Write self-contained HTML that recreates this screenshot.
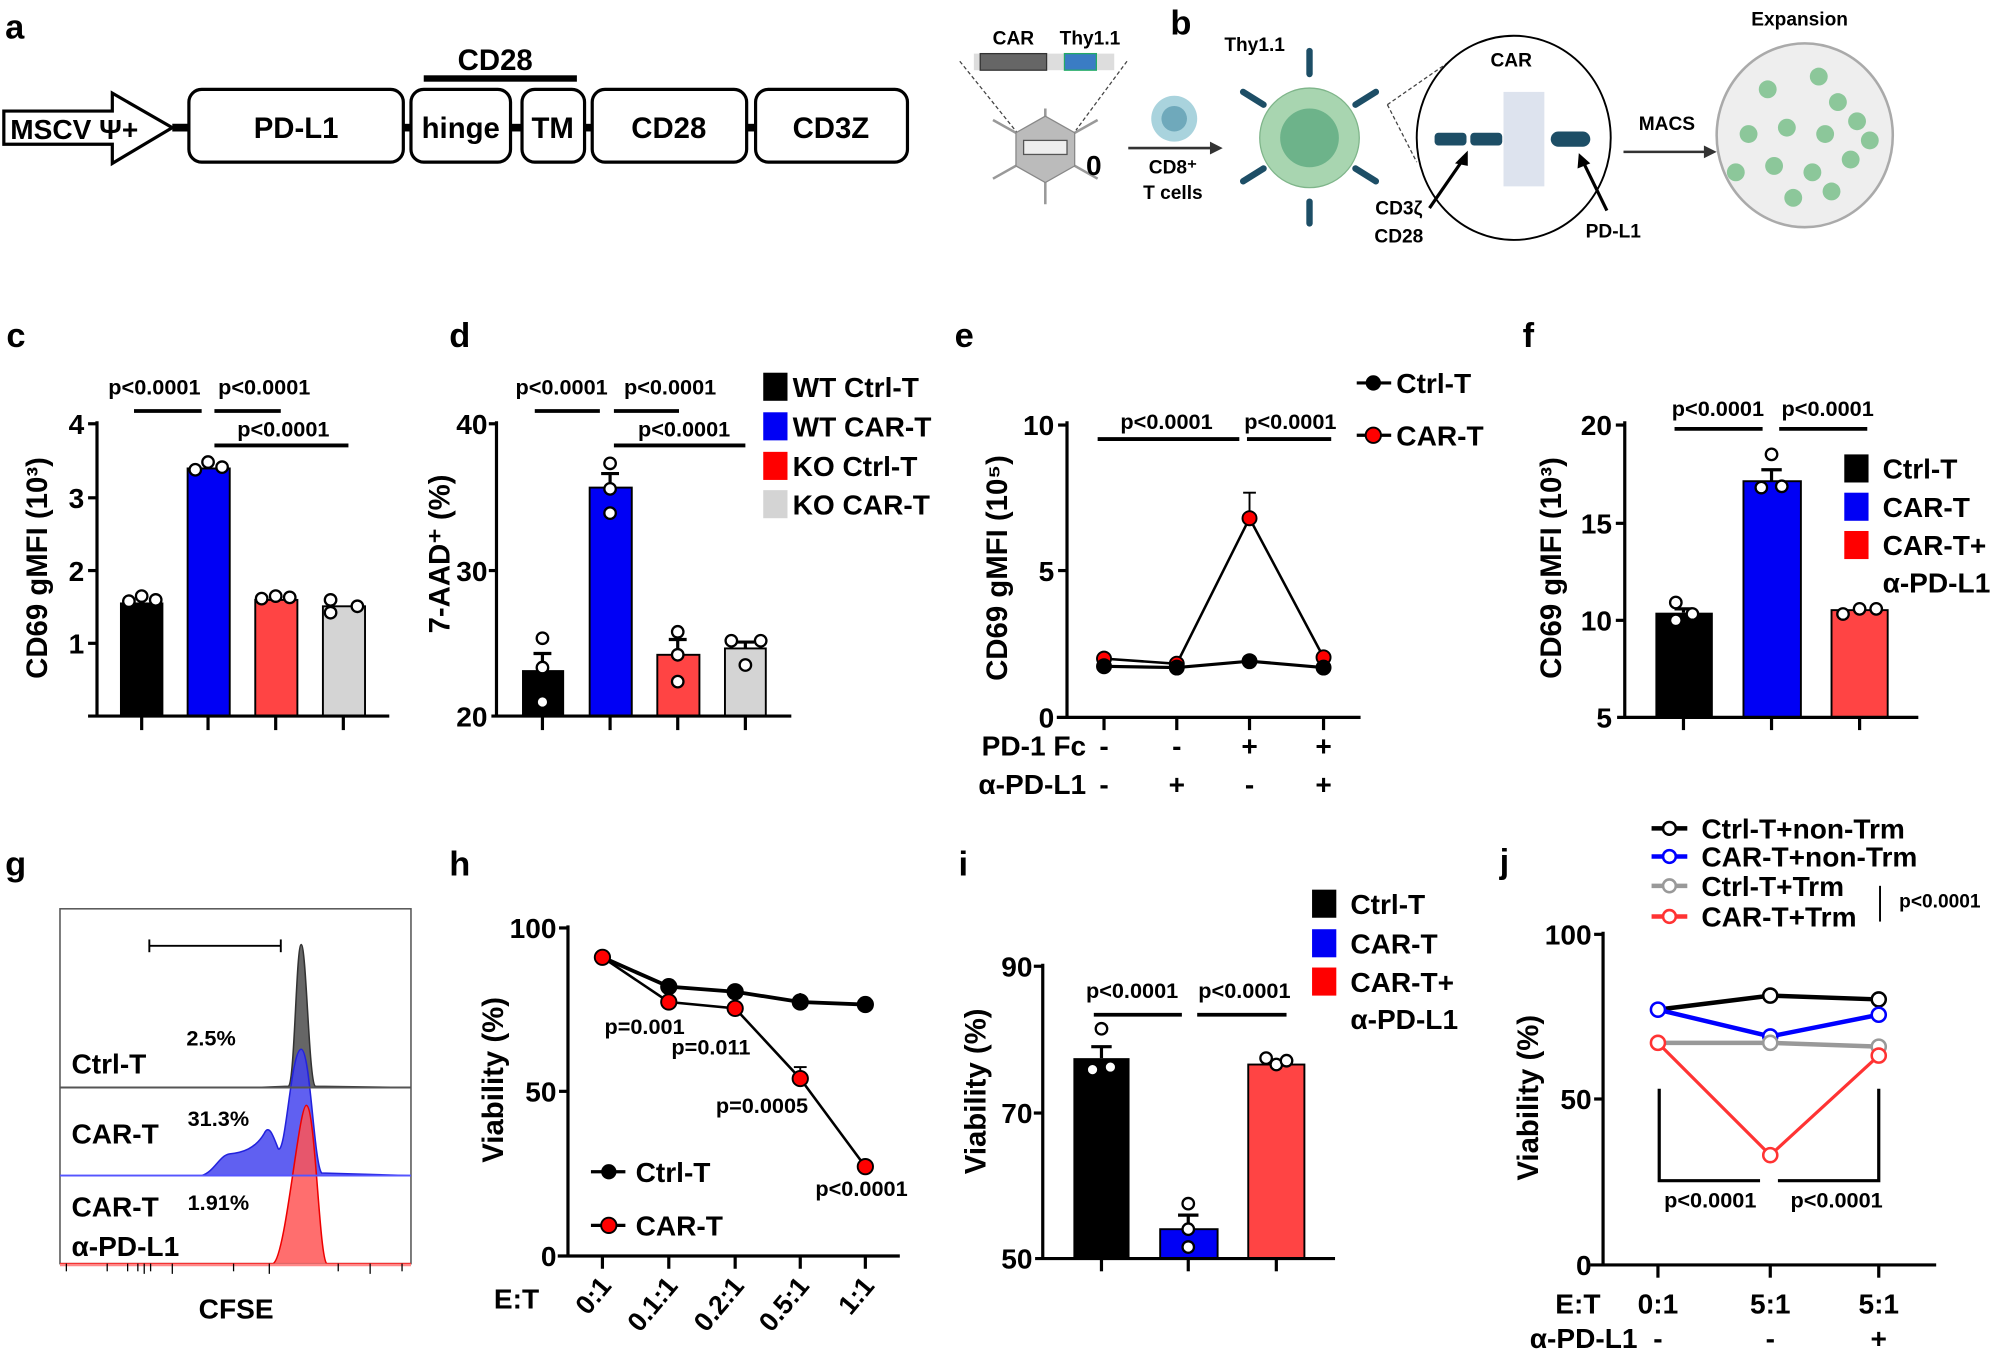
<!DOCTYPE html>
<html><head><meta charset="utf-8"><style>
html,body{margin:0;padding:0;background:#fff;}
svg{display:block;}
text{font-family:"Liberation Sans",sans-serif;font-weight:bold;fill:#000;}
.p{font-size:17px;}
.tk{font-size:22px;text-anchor:end;}
.yl{font-size:23px;text-anchor:middle;}
.lg{font-size:22px;}
.L{font-size:27px;}
</style></head><body>
<svg width="2000" height="1353" viewBox="0 0 1567 1060" preserveAspectRatio="none" xmlns="http://www.w3.org/2000/svg">
<rect width="1567" height="1060" fill="#fff"/>
<!-- panel a -->
<text class="L" x="4" y="30">a</text>
<path d="M3,87 L88,87 L88,73 L135,100 L88,128 L88,113 L3,113 Z" fill="#fff" stroke="#000" stroke-width="2.5"/>
<text x="8" y="109" style="font-size:22px">MSCV Ψ+</text>
<g stroke="#000" stroke-width="6"><line x1="135" y1="100" x2="150" y2="100"/><line x1="315" y1="100" x2="324" y2="100"/><line x1="398" y1="100" x2="410" y2="100"/><line x1="456" y1="100" x2="466" y2="100"/><line x1="583" y1="100" x2="594" y2="100"/></g>
<g fill="#fff" stroke="#000" stroke-width="2.5">
<rect x="148" y="70" width="168" height="57" rx="10"/>
<rect x="322" y="70" width="78" height="57" rx="10"/>
<rect x="409" y="70" width="49" height="57" rx="10"/>
<rect x="464" y="70" width="121" height="57" rx="10"/>
<rect x="592" y="70" width="119" height="57" rx="10"/>
</g>
<g style="font-size:23px" text-anchor="middle">
<text x="232" y="108">PD-L1</text><text x="361" y="108">hinge</text><text x="433" y="108">TM</text><text x="524" y="108">CD28</text><text x="651" y="108">CD3Z</text>
<text x="388" y="55">CD28</text></g>
<rect x="332" y="59" width="120" height="5" fill="#000"/>
<!-- panel b -->
<text class="L" x="917" y="27">b</text>
<g text-anchor="middle" style="font-size:15px"><text x="794" y="35">CAR</text><text x="854" y="35">Thy1.1</text><text x="983" y="40">Thy1.1</text><text x="1184" y="52">CAR</text><text x="1410" y="20">Expansion</text><text x="1306" y="102">MACS</text><text x="919" y="136">CD8⁺</text><text x="919" y="156">T cells</text><text x="1096" y="168">CD3ζ</text><text x="1096" y="190">CD28</text><text x="1264" y="186">PD-L1</text></g>
<rect x="763" y="42" width="110" height="13" fill="#ddd"/><rect x="768" y="42" width="52" height="13" fill="#666" stroke="#333"/><rect x="834" y="42" width="25" height="13" fill="#3a7cc4" stroke="#2a6"/>
<g stroke="#444" stroke-dasharray="3,2" fill="none"><line x1="752" y1="48" x2="797" y2="104"/><line x1="883" y1="48" x2="843" y2="102"/><line x1="1087" y1="82" x2="1136" y2="48"/><line x1="1087" y1="82" x2="1110" y2="127"/></g>
<g stroke="#999" stroke-width="2"><line x1="819" y1="85" x2="819" y2="160"/><line x1="778" y1="94" x2="860" y2="140"/><line x1="778" y1="140" x2="860" y2="94"/></g>
<polygon points="819,91 842,104 842,130 819,143 796,130 796,104" fill="#bbb" stroke="#888"/>
<rect x="802" y="110" width="34" height="11" fill="#eee" stroke="#555"/>
<text x="857" y="137" style="font-size:22px" text-anchor="middle">0</text>
<circle cx="920" cy="93" r="18" fill="#a9d3dd"/><circle cx="920" cy="93" r="10" fill="#6fa9bb"/>
<line x1="884" y1="116" x2="952" y2="116" stroke="#333" stroke-width="2"/><polygon points="958,116 948,111 948,121" fill="#333"/>
<g stroke="#1d4e66" stroke-width="5" stroke-linecap="round"><line x1="1026" y1="40" x2="1026" y2="58"/><line x1="1026" y1="158" x2="1026" y2="175"/><line x1="974" y1="72" x2="990" y2="82"/><line x1="1062" y1="82" x2="1078" y2="72"/><line x1="974" y1="142" x2="990" y2="132"/><line x1="1062" y1="132" x2="1078" y2="142"/></g>
<circle cx="1026" cy="108" r="39" fill="#a8d5b0" stroke="#7fb58a"/><circle cx="1026" cy="108" r="23" fill="#6db38a"/>
<ellipse cx="1186" cy="108" rx="76" ry="80" fill="none" stroke="#000" stroke-width="1.5"/>
<rect x="1178" y="72" width="32" height="74" fill="#dde3ee"/>
<g fill="#1d4e66"><rect x="1124" y="104" width="25" height="10" rx="3"/><rect x="1152" y="104" width="25" height="10" rx="3"/><rect x="1215" y="103" width="31" height="12" rx="6"/></g>
<g stroke="#000" stroke-width="2.5"><line x1="1120" y1="163" x2="1147" y2="124"/><line x1="1259" y1="165" x2="1240" y2="126"/></g>
<polygon points="1150,118 1140,128 1150,130" fill="#000"/><polygon points="1237,120 1236,132 1246,128" fill="#000"/>
<line x1="1272" y1="119" x2="1338" y2="119" stroke="#333" stroke-width="2"/><polygon points="1345,119 1335,114 1335,124" fill="#333"/>
<ellipse cx="1414" cy="106" rx="69" ry="72" fill="#eee" stroke="#aaa" stroke-width="2"/>
<g fill="#8cc79a"><circle cx="1385" cy="70" r="7"/><circle cx="1425" cy="60" r="7"/><circle cx="1440" cy="80" r="7"/><circle cx="1370" cy="105" r="7"/><circle cx="1400" cy="100" r="7"/><circle cx="1430" cy="105" r="7"/><circle cx="1455" cy="95" r="7"/><circle cx="1390" cy="130" r="7"/><circle cx="1420" cy="135" r="7"/><circle cx="1450" cy="125" r="7"/><circle cx="1360" cy="135" r="7"/><circle cx="1405" cy="155" r="7"/><circle cx="1435" cy="150" r="7"/><circle cx="1465" cy="110" r="7"/></g>
<!-- panel c -->
<text class="L" x="5" y="272">c</text>
<text class="p" x="121" y="309" text-anchor="middle">p&lt;0.0001</text><text class="p" x="207" y="309" text-anchor="middle">p&lt;0.0001</text><text class="p" x="222" y="342" text-anchor="middle">p&lt;0.0001</text>
<g stroke="#000" stroke-width="3"><line x1="105" y1="322" x2="158" y2="322"/><line x1="168" y1="322" x2="220" y2="322"/><line x1="168" y1="349" x2="273" y2="349"/></g>
<rect x="94" y="472" width="34" height="89" fill="#000"/><rect x="147" y="367" width="33" height="194" fill="#0000f5" stroke="#000" stroke-width="1.5"/><rect x="200" y="470" width="33" height="91" fill="#f44" stroke="#000" stroke-width="1.5"/><rect x="253" y="475" width="33" height="86" fill="#d4d4d4" stroke="#000" stroke-width="1.5"/>
<g stroke="#000" stroke-width="2.5" fill="none"><line x1="76" y1="330" x2="76" y2="561"/><line x1="69" y1="561" x2="305" y2="561"/>
<line x1="69" y1="332" x2="76" y2="332"/><line x1="69" y1="390" x2="76" y2="390"/><line x1="69" y1="447" x2="76" y2="447"/><line x1="69" y1="504" x2="76" y2="504"/>
<line x1="111" y1="561" x2="111" y2="572"/><line x1="163" y1="561" x2="163" y2="572"/><line x1="216" y1="561" x2="216" y2="572"/><line x1="269" y1="561" x2="269" y2="572"/></g>
<g fill="#fff" stroke="#000" stroke-width="1.8"><circle cx="101" cy="471" r="4.5"/><circle cx="111" cy="467" r="4.5"/><circle cx="122" cy="470" r="4.5"/><circle cx="153" cy="368" r="4.5"/><circle cx="163" cy="362" r="4.5"/><circle cx="174" cy="366" r="4.5"/><circle cx="205" cy="469" r="4.5"/><circle cx="216" cy="467" r="4.5"/><circle cx="227" cy="468" r="4.5"/><circle cx="259" cy="470" r="4.5"/><circle cx="259" cy="480" r="4.5"/><circle cx="280" cy="475" r="4.5"/></g>
<text class="tk" x="66" y="340">4</text><text class="tk" x="66" y="398">3</text><text class="tk" x="66" y="455">2</text><text class="tk" x="66" y="512">1</text>
<text class="yl" transform="translate(37,445) rotate(-90)">CD69 gMFI (10³)</text>
<!-- panel d -->
<text class="L" x="352" y="272">d</text>
<text class="p" x="440" y="309" text-anchor="middle">p&lt;0.0001</text><text class="p" x="525" y="309" text-anchor="middle">p&lt;0.0001</text><text class="p" x="536" y="342" text-anchor="middle">p&lt;0.0001</text>
<g stroke="#000" stroke-width="3"><line x1="419" y1="322" x2="470" y2="322"/><line x1="481" y1="322" x2="532" y2="322"/><line x1="481" y1="349" x2="584" y2="349"/></g>
<rect x="409" y="525" width="33" height="36" fill="#000"/><rect x="462" y="382" width="33" height="179" fill="#0000f5" stroke="#000" stroke-width="1.5"/><rect x="515" y="513" width="33" height="48" fill="#f44" stroke="#000" stroke-width="1.5"/><rect x="568" y="508" width="32" height="53" fill="#d4d4d4" stroke="#000" stroke-width="1.5"/>
<g stroke="#000" stroke-width="2.5" fill="none"><line x1="389" y1="330" x2="389" y2="561"/><line x1="385" y1="561" x2="620" y2="561"/>
<line x1="383" y1="332" x2="389" y2="332"/><line x1="383" y1="447" x2="389" y2="447"/>
<line x1="425" y1="561" x2="425" y2="572"/><line x1="478" y1="561" x2="478" y2="572"/><line x1="531" y1="561" x2="531" y2="572"/><line x1="584" y1="561" x2="584" y2="572"/>
<line x1="425" y1="525" x2="425" y2="512"/><line x1="418" y1="512" x2="432" y2="512"/><line x1="478" y1="382" x2="478" y2="371"/><line x1="471" y1="371" x2="485" y2="371"/><line x1="531" y1="513" x2="531" y2="501"/><line x1="524" y1="501" x2="538" y2="501"/><line x1="584" y1="508" x2="584" y2="503"/><line x1="577" y1="503" x2="591" y2="503"/></g>
<g fill="#fff" stroke="#000" stroke-width="1.8"><circle cx="425" cy="500" r="4.5"/><circle cx="425" cy="523" r="4.5"/><circle cx="425" cy="550" r="4.5"/><circle cx="478" cy="363" r="4.5"/><circle cx="478" cy="383" r="4.5"/><circle cx="478" cy="402" r="4.5"/><circle cx="531" cy="495" r="4.5"/><circle cx="531" cy="513" r="4.5"/><circle cx="531" cy="534" r="4.5"/><circle cx="573" cy="502" r="4.5"/><circle cx="596" cy="502" r="4.5"/><circle cx="584" cy="521" r="4.5"/></g>
<text class="tk" x="382" y="340">40</text><text class="tk" x="382" y="455">30</text><text class="tk" x="382" y="569">20</text>
<text class="yl" transform="translate(352,434) rotate(-90)">7-AAD⁺ (%)</text>
<rect x="598" y="292" width="19" height="22" fill="#000"/><rect x="598" y="323" width="19" height="22" fill="#0000f5"/><rect x="598" y="354" width="19" height="22" fill="#f00"/><rect x="598" y="384" width="19" height="22" fill="#d4d4d4"/>
<text class="lg" x="621" y="311">WT Ctrl-T</text><text class="lg" x="621" y="342">WT CAR-T</text><text class="lg" x="621" y="373">KO Ctrl-T</text><text class="lg" x="621" y="403">KO CAR-T</text>
<!-- panel e -->
<text class="L" x="748" y="272">e</text>
<text class="p" x="914" y="336" text-anchor="middle">p&lt;0.0001</text><text class="p" x="1011" y="336" text-anchor="middle">p&lt;0.0001</text>
<g stroke="#000" stroke-width="3"><line x1="860" y1="344" x2="971" y2="344"/><line x1="977" y1="344" x2="1043" y2="344"/></g>
<g stroke="#000" stroke-width="2.5" fill="none"><line x1="836" y1="330" x2="836" y2="562"/><line x1="828" y1="562" x2="1066" y2="562"/>
<line x1="829" y1="333" x2="836" y2="333"/><line x1="829" y1="447" x2="836" y2="447"/>
<line x1="865" y1="562" x2="865" y2="572"/><line x1="922" y1="562" x2="922" y2="572"/><line x1="979" y1="562" x2="979" y2="572"/><line x1="1037" y1="562" x2="1037" y2="572"/></g>
<polyline points="865,522 922,523 979,518 1037,523" fill="none" stroke="#000" stroke-width="2.5"/>
<polyline points="865,516 922,520 979,406 1037,515" fill="none" stroke="#000" stroke-width="2"/>
<g stroke="#000" stroke-width="1.5"><line x1="979" y1="406" x2="979" y2="386"/><line x1="974" y1="386" x2="984" y2="386"/></g>
<g stroke="#000" stroke-width="1.5"><circle cx="865" cy="516" r="5.5" fill="#f00"/><circle cx="922" cy="520" r="5.5" fill="#f00"/><circle cx="979" cy="406" r="5.5" fill="#f00"/><circle cx="1037" cy="515" r="5.5" fill="#f00"/>
<circle cx="865" cy="522" r="5.5" fill="#000"/><circle cx="922" cy="523" r="5.5" fill="#000"/><circle cx="979" cy="518" r="5.5" fill="#000"/><circle cx="1037" cy="523" r="5.5" fill="#000"/></g>
<text class="tk" x="826" y="341">10</text><text class="tk" x="826" y="455">5</text><text class="tk" x="826" y="570">0</text>
<text class="yl" transform="translate(789,445) rotate(-90)">CD69 gMFI (10⁵)</text>
<text class="lg" x="851" y="592" text-anchor="end">PD-1 Fc</text><text class="lg" x="851" y="622" text-anchor="end">α-PD-L1</text>
<text class="lg" x="865" y="592" text-anchor="middle">-</text><text class="lg" x="922" y="592" text-anchor="middle">-</text><text class="lg" x="979" y="592" text-anchor="middle">+</text><text class="lg" x="1037" y="592" text-anchor="middle">+</text>
<text class="lg" x="865" y="622" text-anchor="middle">-</text><text class="lg" x="922" y="622" text-anchor="middle">+</text><text class="lg" x="979" y="622" text-anchor="middle">-</text><text class="lg" x="1037" y="622" text-anchor="middle">+</text>
<g stroke="#000" stroke-width="2.5"><line x1="1063" y1="300" x2="1090" y2="300"/><line x1="1063" y1="341" x2="1090" y2="341"/></g>
<circle cx="1076" cy="300" r="6" fill="#000"/><circle cx="1076" cy="341" r="6" fill="#f00" stroke="#000" stroke-width="1.5"/>
<text class="lg" x="1094" y="308">Ctrl-T</text><text class="lg" x="1094" y="349">CAR-T</text>
<!-- panel f -->
<text class="L" x="1193" y="272">f</text>
<text class="p" x="1346" y="326" text-anchor="middle">p&lt;0.0001</text><text class="p" x="1432" y="326" text-anchor="middle">p&lt;0.0001</text>
<g stroke="#000" stroke-width="3"><line x1="1312" y1="336" x2="1381" y2="336"/><line x1="1394" y1="336" x2="1463" y2="336"/></g>
<rect x="1297" y="480" width="45" height="82" fill="#000"/><rect x="1366" y="377" width="45" height="185" fill="#0000f5" stroke="#000" stroke-width="1.5"/><rect x="1435" y="478" width="44" height="84" fill="#f44" stroke="#000" stroke-width="1.5"/>
<g stroke="#000" stroke-width="2.5" fill="none"><line x1="1273" y1="330" x2="1273" y2="562"/><line x1="1267" y1="562" x2="1503" y2="562"/>
<line x1="1266" y1="333" x2="1273" y2="333"/><line x1="1266" y1="410" x2="1273" y2="410"/><line x1="1266" y1="486" x2="1273" y2="486"/>
<line x1="1319" y1="562" x2="1319" y2="572"/><line x1="1388" y1="562" x2="1388" y2="572"/><line x1="1457" y1="562" x2="1457" y2="572"/>
<line x1="1388" y1="377" x2="1388" y2="368"/><line x1="1380" y1="368" x2="1396" y2="368"/><line x1="1319" y1="480" x2="1319" y2="477"/><line x1="1312" y1="477" x2="1326" y2="477"/></g>
<g fill="#fff" stroke="#000" stroke-width="1.8"><circle cx="1313" cy="472" r="4.5"/><circle cx="1313" cy="486" r="4.5"/><circle cx="1326" cy="481" r="4.5"/><circle cx="1388" cy="356" r="4.5"/><circle cx="1380" cy="382" r="4.5"/><circle cx="1396" cy="381" r="4.5"/><circle cx="1444" cy="481" r="4.5"/><circle cx="1457" cy="477" r="4.5"/><circle cx="1470" cy="477" r="4.5"/></g>
<text class="tk" x="1263" y="341">20</text><text class="tk" x="1263" y="418">15</text><text class="tk" x="1263" y="494">10</text><text class="tk" x="1263" y="570">5</text>
<text class="yl" transform="translate(1223,445) rotate(-90)">CD69 gMFI (10³)</text>
<rect x="1445" y="356" width="19" height="22" fill="#000"/><rect x="1445" y="386" width="19" height="22" fill="#0000f5"/><rect x="1445" y="416" width="19" height="22" fill="#f00"/>
<text class="lg" x="1475" y="375">Ctrl-T</text><text class="lg" x="1475" y="405">CAR-T</text><text class="lg" x="1475" y="435">CAR-T+</text><text class="lg" x="1475" y="464">α-PD-L1</text>
<!-- panel g -->
<text class="L" x="4" y="686">g</text>
<rect x="47" y="712" width="275" height="278" fill="#fff" stroke="#555" stroke-width="1.2"/>
<g stroke="#000" stroke-width="1.5"><line x1="117" y1="741" x2="220" y2="741"/><line x1="117" y1="736" x2="117" y2="746"/><line x1="220" y1="736" x2="220" y2="746"/></g>
<path d="M47,852 L200,852 L226,851 C231,848 232,740 236,740 C240,740 242,848 247,851 L322,852" fill="#555" fill-opacity="0.9" stroke="#333" stroke-width="1.2"/>
<path d="M47,921 L158,921 C168,918 172,905 180,904 C190,903 200,900 207,888 C211,880 214,890 218,900 C224,905 228,822 236,822 C243,822 246,912 252,919 L322,921" fill="#4444ee" fill-opacity="0.85" stroke="#2222dd" stroke-width="1.2"/>
<path d="M47,990 L214,990 C224,985 234,866 240,866 C247,866 250,985 256,990 L322,990" fill="#f55" fill-opacity="0.85" stroke="#e00" stroke-width="1.2"/>
<line x1="47" y1="852" x2="322" y2="852" stroke="#555" stroke-width="1.5"/><line x1="47" y1="921" x2="322" y2="921" stroke="#55f" stroke-width="1.5"/><line x1="47" y1="991" x2="322" y2="991" stroke="#f88" stroke-width="2"/>
<g stroke="#000" stroke-width="1"><line x1="52" y1="990" x2="52" y2="996"/><line x1="84" y1="990" x2="84" y2="996"/><line x1="100" y1="990" x2="100" y2="996"/><line x1="108" y1="990" x2="108" y2="996"/><line x1="113" y1="990" x2="113" y2="998"/><line x1="118" y1="990" x2="118" y2="996"/><line x1="135" y1="990" x2="135" y2="998"/><line x1="183" y1="990" x2="183" y2="996"/><line x1="211" y1="990" x2="211" y2="998"/><line x1="265" y1="990" x2="265" y2="996"/><line x1="290" y1="990" x2="290" y2="998"/><line x1="315" y1="990" x2="315" y2="996"/></g>
<text x="56" y="841" style="font-size:22px">Ctrl-T</text><text x="146" y="819" style="font-size:17px">2.5%</text>
<text x="56" y="896" style="font-size:22px">CAR-T</text><text x="147" y="882" style="font-size:17px">31.3%</text>
<text x="56" y="953" style="font-size:22px">CAR-T</text><text x="147" y="948" style="font-size:17px">1.91%</text>
<text x="56" y="984" style="font-size:22px">α-PD-L1</text>
<text x="185" y="1033" style="font-size:22px" text-anchor="middle">CFSE</text>
<!-- panel h -->
<text class="L" x="352" y="686">h</text>
<g stroke="#000" stroke-width="2.5" fill="none"><line x1="445" y1="725" x2="445" y2="984"/><line x1="437" y1="984" x2="705" y2="984"/>
<line x1="438" y1="727" x2="445" y2="727"/><line x1="438" y1="855" x2="445" y2="855"/>
<line x1="472" y1="984" x2="472" y2="994"/><line x1="524" y1="984" x2="524" y2="994"/><line x1="576" y1="984" x2="576" y2="994"/><line x1="627" y1="984" x2="627" y2="994"/><line x1="678" y1="984" x2="678" y2="994"/></g>
<polyline points="472,750 524,773 576,777 627,785 678,787" fill="none" stroke="#000" stroke-width="3"/>
<polyline points="472,750 524,785 576,790 627,845 678,914" fill="none" stroke="#000" stroke-width="2"/>
<g stroke="#000" stroke-width="1.5"><line x1="627" y1="845" x2="627" y2="836"/><line x1="622" y1="836" x2="632" y2="836"/><line x1="627" y1="785" x2="627" y2="778"/></g>
<g stroke="#000" stroke-width="1.5"><circle cx="524" cy="773" r="6" fill="#000"/><circle cx="576" cy="777" r="6" fill="#000"/><circle cx="627" cy="785" r="6" fill="#000"/><circle cx="678" cy="787" r="6" fill="#000"/>
<circle cx="472" cy="750" r="6" fill="#f00"/><circle cx="524" cy="785" r="6" fill="#f00"/><circle cx="576" cy="790" r="6" fill="#f00"/><circle cx="627" cy="845" r="6" fill="#f00"/><circle cx="678" cy="914" r="6" fill="#f00"/></g>
<text class="p" x="505" y="810" text-anchor="middle">p=0.001</text><text class="p" x="557" y="826" text-anchor="middle">p=0.011</text><text class="p" x="597" y="872" text-anchor="middle">p=0.0005</text><text class="p" x="675" y="937" text-anchor="middle">p&lt;0.0001</text>
<g stroke="#000" stroke-width="2.5"><line x1="463" y1="918" x2="490" y2="918"/><line x1="463" y1="960" x2="490" y2="960"/></g>
<circle cx="477" cy="918" r="6" fill="#000"/><circle cx="477" cy="960" r="6" fill="#f00" stroke="#000" stroke-width="1.5"/>
<text class="lg" x="498" y="926">Ctrl-T</text><text class="lg" x="498" y="968">CAR-T</text>
<text class="tk" x="436" y="735">100</text><text class="tk" x="436" y="863">50</text><text class="tk" x="436" y="992">0</text>
<text class="yl" transform="translate(394,846) rotate(-90)">Viability (%)</text>
<text class="lg" x="387" y="1025">E:T</text>
<g style="font-size:21px" text-anchor="end"><text transform="translate(480,1008) rotate(-50)">0:1</text><text transform="translate(532,1008) rotate(-50)">0.1:1</text><text transform="translate(584,1008) rotate(-50)">0.2:1</text><text transform="translate(635,1008) rotate(-50)">0.5:1</text><text transform="translate(686,1008) rotate(-50)">1:1</text></g>
<!-- panel i -->
<text class="L" x="751" y="686">i</text>
<text class="p" x="887" y="782" text-anchor="middle">p&lt;0.0001</text><text class="p" x="975" y="782" text-anchor="middle">p&lt;0.0001</text>
<g stroke="#000" stroke-width="3"><line x1="857" y1="795" x2="926" y2="795"/><line x1="938" y1="795" x2="1008" y2="795"/></g>
<rect x="841" y="829" width="44" height="157" fill="#000"/><rect x="909" y="963" width="45" height="23" fill="#0000f5" stroke="#000" stroke-width="1.5"/><rect x="978" y="834" width="44" height="152" fill="#f44" stroke="#000" stroke-width="1.5"/>
<g stroke="#000" stroke-width="2.5" fill="none"><line x1="817" y1="755" x2="817" y2="986"/><line x1="811" y1="986" x2="1046" y2="986"/>
<line x1="810" y1="757" x2="817" y2="757"/><line x1="810" y1="872" x2="817" y2="872"/>
<line x1="863" y1="986" x2="863" y2="996"/><line x1="931" y1="986" x2="931" y2="996"/><line x1="1000" y1="986" x2="1000" y2="996"/>
<line x1="863" y1="829" x2="863" y2="820"/><line x1="855" y1="820" x2="871" y2="820"/><line x1="931" y1="963" x2="931" y2="952"/><line x1="923" y1="952" x2="939" y2="952"/></g>
<g fill="#fff" stroke="#000" stroke-width="1.8"><circle cx="863" cy="806" r="4.5"/><circle cx="856" cy="838" r="4.5"/><circle cx="870" cy="836" r="4.5"/><circle cx="931" cy="943" r="4.5"/><circle cx="931" cy="963" r="4.5"/><circle cx="931" cy="977" r="4.5"/><circle cx="992" cy="829" r="4.5"/><circle cx="1000" cy="834" r="4.5"/><circle cx="1008" cy="831" r="4.5"/></g>
<text class="tk" x="809" y="765">90</text><text class="tk" x="809" y="880">70</text><text class="tk" x="809" y="994">50</text>
<text class="yl" transform="translate(772,855) rotate(-90)">Viability (%)</text>
<rect x="1028" y="697" width="19" height="22" fill="#000"/><rect x="1028" y="728" width="19" height="22" fill="#0000f5"/><rect x="1028" y="758" width="19" height="22" fill="#f00"/>
<text class="lg" x="1058" y="716">Ctrl-T</text><text class="lg" x="1058" y="747">CAR-T</text><text class="lg" x="1058" y="777">CAR-T+</text><text class="lg" x="1058" y="806">α-PD-L1</text>
<!-- panel j -->
<text class="L" x="1175" y="684">j</text>
<g stroke-width="3.5" fill="#fff"><line x1="1294" y1="649" x2="1322" y2="649" stroke="#000"/><circle cx="1308" cy="649" r="5" stroke="#000" stroke-width="2"/>
<line x1="1294" y1="671" x2="1322" y2="671" stroke="#00f"/><circle cx="1308" cy="671" r="5" stroke="#00f" stroke-width="2"/>
<line x1="1294" y1="694" x2="1322" y2="694" stroke="#999"/><circle cx="1308" cy="694" r="5" stroke="#999" stroke-width="2"/>
<line x1="1294" y1="718" x2="1322" y2="718" stroke="#f33"/><circle cx="1308" cy="718" r="5" stroke="#f33" stroke-width="2"/></g>
<text class="lg" x="1333" y="657">Ctrl-T+non-Trm</text><text class="lg" x="1333" y="679">CAR-T+non-Trm</text><text class="lg" x="1333" y="702">Ctrl-T+Trm</text><text class="lg" x="1333" y="726">CAR-T+Trm</text>
<line x1="1473" y1="694" x2="1473" y2="722" stroke="#000" stroke-width="1.5"/>
<text x="1488" y="711" style="font-size:15px">p&lt;0.0001</text>
<g stroke="#000" stroke-width="2.5" fill="none"><line x1="1256" y1="730" x2="1256" y2="991"/><line x1="1246" y1="991" x2="1517" y2="991"/>
<line x1="1249" y1="732" x2="1256" y2="732"/><line x1="1249" y1="861" x2="1256" y2="861"/>
<line x1="1299" y1="991" x2="1299" y2="1001"/><line x1="1387" y1="991" x2="1387" y2="1001"/><line x1="1472" y1="991" x2="1472" y2="1001"/>
<polyline points="1300,853 1300,925 1379,925"/><polyline points="1393,925 1472,925 1472,853"/></g>
<polyline points="1299,791 1387,780 1472,783" fill="none" stroke="#000" stroke-width="3.5"/>
<polyline points="1299,791 1387,812 1472,795" fill="none" stroke="#00f" stroke-width="3.5"/>
<polyline points="1299,817 1387,817 1472,820" fill="none" stroke="#999" stroke-width="3.5"/>
<polyline points="1299,817 1387,905 1472,827" fill="none" stroke="#f33" stroke-width="2.5"/>
<g fill="#fff" stroke-width="2"><circle cx="1387" cy="780" r="5.5" stroke="#000"/><circle cx="1472" cy="783" r="5.5" stroke="#000"/><circle cx="1299" cy="791" r="5.5" stroke="#00f"/><circle cx="1387" cy="812" r="5.5" stroke="#00f"/><circle cx="1472" cy="795" r="5.5" stroke="#00f"/><circle cx="1387" cy="817" r="5.5" stroke="#999"/><circle cx="1472" cy="820" r="5.5" stroke="#999"/><circle cx="1299" cy="817" r="5.5" stroke="#f33"/><circle cx="1387" cy="905" r="5.5" stroke="#f33"/><circle cx="1472" cy="827" r="5.5" stroke="#f33"/></g>
<text class="p" x="1340" y="946" text-anchor="middle">p&lt;0.0001</text><text class="p" x="1439" y="946" text-anchor="middle">p&lt;0.0001</text>
<text class="tk" x="1247" y="740">100</text><text class="tk" x="1247" y="869">50</text><text class="tk" x="1247" y="999">0</text>
<text class="yl" transform="translate(1205,860) rotate(-90)">Viability (%)</text>
<text class="lg" x="1254" y="1029" text-anchor="end">E:T</text><text class="lg" x="1299" y="1029" text-anchor="middle">0:1</text><text class="lg" x="1387" y="1029" text-anchor="middle">5:1</text><text class="lg" x="1472" y="1029" text-anchor="middle">5:1</text>
<text class="lg" x="1283" y="1056" text-anchor="end">α-PD-L1</text><text class="lg" x="1299" y="1056" text-anchor="middle">-</text><text class="lg" x="1387" y="1056" text-anchor="middle">-</text><text class="lg" x="1472" y="1056" text-anchor="middle">+</text>
</svg>
</body></html>
